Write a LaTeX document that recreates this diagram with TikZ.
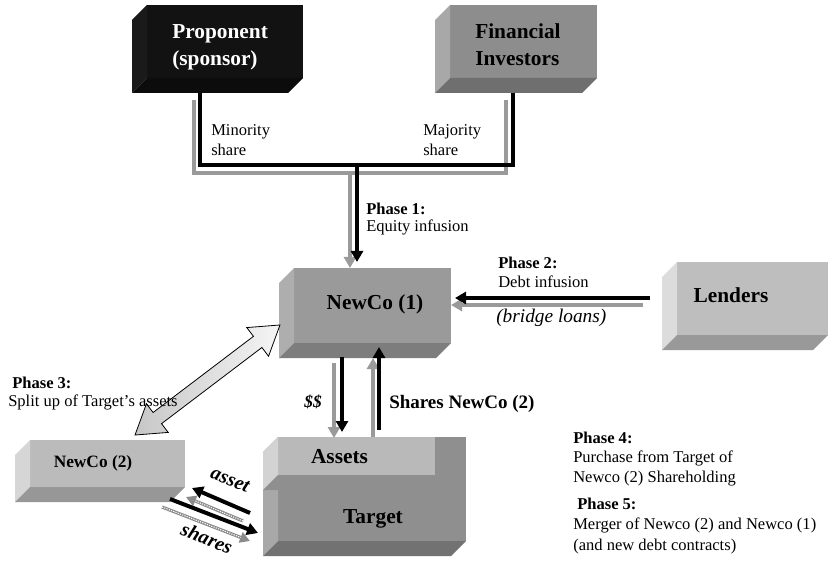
\documentclass[tikz,border=0pt]{standalone}
\usepackage{fontspec}
\setmainfont{Liberation Serif}
\usetikzlibrary{arrows.meta,fit}

% face colours of the solid boxes
\definecolor{propfront}{HTML}{121212}
\definecolor{propside}{HTML}{1A1A1A}
\definecolor{propbottom}{HTML}{0C0C0C}
\definecolor{finfront}{HTML}{8D8D8D}
\definecolor{finside}{HTML}{A8A8A8}
\definecolor{finbottom}{HTML}{6F6F6F}
\definecolor{ncfront}{HTML}{9A9A9A}
\definecolor{ncside}{HTML}{AEAEAE}
\definecolor{ncbottom}{HTML}{7D7D7D}
\definecolor{lendfront}{HTML}{BEBEBE}
\definecolor{lendside}{HTML}{DCDCDC}
\definecolor{lendbottom}{HTML}{999999}
\definecolor{nctwofront}{HTML}{BBBBBB}
\definecolor{nctwoside}{HTML}{D6D6D6}
\definecolor{nctwobottom}{HTML}{979797}
\definecolor{tgtfront}{HTML}{8F8F8F}
\definecolor{tgtside}{HTML}{A8A8A8}
\definecolor{tgtbottom}{HTML}{727272}
\definecolor{astfront}{HTML}{B9B9B9}
\definecolor{astside}{HTML}{D3D3D3}
\definecolor{astbottom}{HTML}{8F8F8F}
\definecolor{linegray}{HTML}{9A9A9A}
\definecolor{hatchgray}{HTML}{8A8A8A}

% front, left and bottom faces of a box whose outline is node #1
\newcommand\slabfaces[4]{%
  \fill[#2] ([shift={(15,0)}]#1.north west) rectangle ([shift={(0,-15)}]#1.south east);
  \fill[#3] ([shift={(15,0)}]#1.north west) -- ([shift={(15,-15)}]#1.south west)
            -- (#1.south west) -- ([shift={(0,15)}]#1.north west) -- cycle;
  \fill[#4] ([shift={(15,-15)}]#1.south west) -- ([shift={(0,-15)}]#1.south east)
            -- ([shift={(-15,0)}]#1.south east) -- (#1.south west) -- cycle;
}

\begin{document}
\begin{tikzpicture}[x=0.75pt, y=-0.75pt,
  slab/.style={inner sep=0pt, outer sep=0pt},
  boxlbl/.style={font=\bfseries\fontsize{16}{20.25}\selectfont, inner sep=0pt},
  note/.style={font=\fontsize{12.4}{14.4}\selectfont, inner sep=0pt, align=left, anchor=north west},
  blk/.style={draw=black, line width=3pt},
  gry/.style={draw=linegray, line width=3.2pt},
  tip/.style={-{Triangle[width=9pt,length=8.25pt]}},
  hatched/.style={draw=hatchgray, line width=2.4pt, -{Triangle[width=8pt,length=7.5pt]},
    postaction={draw=white, line width=0.8pt, dash pattern=on 0.9pt off 0.9pt, shorten >=7.5pt, -}},
]
\useasboundingbox (0,0) rectangle (829,574);
\fill[white] (0,0) rectangle (829,574);

% ---- boxes ----
\node[slab, fit={(132,5) (303,93)}] (prop) {};
\slabfaces{prop}{propfront}{propside}{propbottom}
\node[boxlbl, text=white, align=left, anchor=north west] (propname) at (172,23.9) {Proponent\\(sponsor)};

\node[slab, fit={(435,5) (597,93)}] (fin) {};
\slabfaces{fin}{finfront}{finside}{finbottom}
\node[boxlbl, align=left, anchor=north west] (finname) at (475,23.3) {Financial\\Investors};

\node[slab, fit={(279,268) (451,358)}] (newco1) {};
\slabfaces{newco1}{ncfront}{ncside}{ncbottom}
\node[boxlbl, anchor=base] (newco1name) at (375,310) {NewCo (1)};

\node[slab, fit={(662,262) (828,350)}] (lenders) {};
\slabfaces{lenders}{lendfront}{lendside}{lendbottom}
\node[boxlbl, anchor=base] (lendersname) at (731,303) {Lenders};

\node[slab, fit={(15,440) (185,502)}] (newco2) {};
\slabfaces{newco2}{nctwofront}{nctwoside}{nctwobottom}
\node[boxlbl, font=\bfseries\fontsize{13}{15}\selectfont, anchor=base] (newco2name) at (93,467) {NewCo (2)};

\node[slab, fit={(263,437) (466,556)}] (target) {};
\slabfaces{target}{tgtfront}{tgtside}{tgtbottom}
\node[slab, fit={(263,437) (435,490)}] (assets) {};
\slabfaces{assets}{astfront}{astside}{astbottom}
\node[boxlbl, anchor=base] (assetsname) at (339.5,463) {Assets};
\node[boxlbl, anchor=base] (targetname) at (373,523) {Target};

% ---- phase 1: equity infusion ----
\coordinate (grayjoin) at ([shift={(218,80)}]prop.south west);
\coordinate (blackjoin) at ([shift={(225,72)}]prop.south west);
\draw[gry] ([shift={(62,7)}]prop.south west) |- ([shift={(71,80)}]fin.south west)
           -- ([shift={(71,7)}]fin.south west);
\draw[gry,tip] (grayjoin) -- ([shift={(71,0)}]newco1.north west);
\draw[blk] ([shift={(68,0)}]prop.south west) |- ([shift={(78,72)}]fin.south west)
           -- ([shift={(78,0)}]fin.south west);
\draw[blk,tip] (blackjoin) -- ([shift={(78,-6)}]newco1.north west);

\node[note] (minority) at (211,124.7) {Minority\\share};
\node[note] (majority) at (423,124.7) {Majority\\share};
\node[note, font=\fontsize{12.4}{12.75}\selectfont] (phase1) at (366,202.7) {\textbf{Phase 1:}\\Equity infusion};

% ---- phase 2: debt infusion ----
\draw[gry,tip] ([shift={(-19,43)}]lenders.north west) -- ([shift={(0,37)}]newco1.north east);
\draw[blk,tip] ([shift={(-12,36)}]lenders.north west) -- ([shift={(4,30)}]newco1.north east);
\node[note, font=\fontsize{12.4}{14.25}\selectfont] (phase2) at (498,256.7) {\textbf{Phase 2:}\\Debt infusion};
\node[font=\itshape\fontsize{14.5}{16}\selectfont, anchor=base west, inner sep=0pt] (bridge) at (496,323) {(bridge loans)};

% ---- phase 3: split of the target's assets ----
\begin{scope}[shift={(207.5,380)}, rotate=37.2]
  \draw[line width=0.6pt, left color=black!22, right color=black!4]
    (91,0) -- (63,18) -- (63,7) -- (-63,7) -- (-63,18) -- (-91,0)
    -- (-63,-18) -- (-63,-7) -- (63,-7) -- (63,-18) -- cycle;
\end{scope}
\node[note, font=\fontsize{12.4}{13.9}\selectfont] (phase3) at (8,376.7) {\hspace*{3pt}\textbf{Phase 3:}\\Split up of Target’s assets};

% ---- cash and shares between NewCo (1) and the target ----
\draw[gry,tip] ([shift={(55,5)}]newco1.south west) -- ([shift={(71,1)}]assets.north west);
\draw[blk,tip] ([shift={(63,-1)}]newco1.south west) -- ([shift={(79,-5)}]assets.north west);
\draw[gry,tip] ([shift={(110,0)}]assets.north west) -- ([shift={(94,0)}]newco1.south west);
\draw[blk,tip] ([shift={(116,-7)}]assets.north west) -- ([shift={(100,-11)}]newco1.south west);
\node[font=\bfseries\itshape\fontsize{13}{15}\selectfont, anchor=base, inner sep=0pt] (cash) at (313,407) {\$\$};
\node[font=\bfseries\fontsize{14.25}{16}\selectfont, anchor=base west, inner sep=0pt] (sharesnc) at (389,408) {Shares NewCo (2)};

% ---- asset / shares exchange between NewCo (2) and the target ----
\draw[hatched] ([shift={(-20,84)}]target.north west) -- ([shift={(1,-5)}]newco2.south east);
\draw[blk,tip] ([shift={(-13,76)}]target.north west) -- ([shift={(7,-14)}]newco2.south east);
\draw[hatched] ([shift={(-23,5)}]newco2.south east) -- ([shift={(-13,104)}]target.north west);
\draw[blk,tip] ([shift={(-15,-3)}]newco2.south east) -- ([shift={(-5,96)}]target.north west);
\node[font=\bfseries\itshape\fontsize{15}{17}\selectfont, rotate=-22, inner sep=0pt] (assetlbl) at (230,480) {asset};
\node[font=\bfseries\itshape\fontsize{15}{17}\selectfont, rotate=-22, inner sep=0pt] (shareslbl) at (207,538) {shares};

% ---- phases 4 and 5 ----
\node[note, font=\fontsize{12.4}{14.6}\selectfont] (phase4) at (573,431.7) {\textbf{Phase 4:}\\Purchase from Target of\\Newco (2) Shareholding};
\node[note, font=\fontsize{12.4}{15.4}\selectfont] (phase5) at (573,497.7) {\hspace*{3pt}\textbf{Phase 5:}\\Merger of Newco (2) and Newco (1)\\(and new debt contracts)};
\end{tikzpicture}
\end{document}
